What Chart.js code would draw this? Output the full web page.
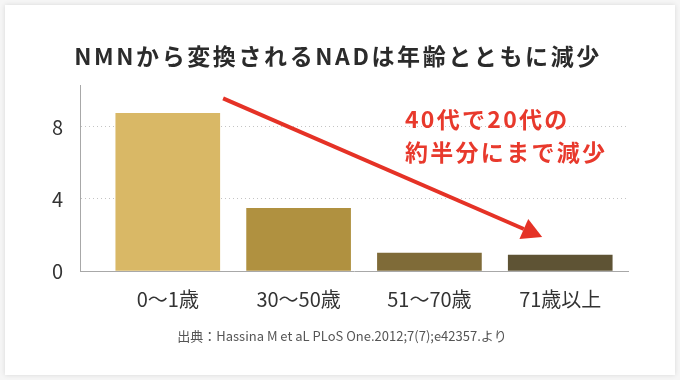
<!DOCTYPE html>
<html>
<head>
<meta charset="utf-8">
<script src="https://cdn.jsdelivr.net/npm/chart.js@4.4.1/dist/chart.umd.min.js"></script>
<style>
  html, body { margin: 0; padding: 0; width: 680px; height: 380px; background: #f6f6f6; overflow: hidden; }
  #card { position: absolute; left: 5px; top: 5px; width: 670px; height: 370px; background: #ffffff; box-shadow: 0 0 5px rgba(0,0,0,0.12); }
  #wrap { position: absolute; left: 0; top: 0; width: 680px; height: 380px; }
</style>
</head>
<body>
<div id="card"></div>
<div id="wrap"><canvas id="c" width="680" height="380"></canvas></div>
<script>
// ---- data ----
const titleText = 'NMNから変換されるNADは年齢とともに減少';
const categories = ['0〜1歳', '30〜50歳', '51〜70歳', '71歳以上'];
const nadValues = [8.76, 3.48, 1.0, 0.89];
const yTickValues = [0, 4, 8];
const noteLines = ['40代で20代の', '約半分にまで減少'];
const sourceText = '出典：Hassina M et aL PLoS One.2012;7(7);e42357.より';
// arrow endpoints and note anchor in data units (x = category index, y = value)
const arrowFrom = [0.423, 9.59];
const arrowTo = [2.862, 1.89];
const noteAnchor = [1.813, 8.44, 6.61];

// ---- styles ----
const barColors = ['#d9b866', '#b09140', '#7f6b38', '#5e5334'];
const FONT = '"Noto Sans CJK JP", "Noto Sans", sans-serif';
const RED = '#e8392c';

const overlay = {
  id: 'overlay',
  afterDatasetsDraw(chart) {
    const ctx = chart.ctx;
    const xs = chart.scales.x, ys = chart.scales.y;
    // arrow
    const x1 = xs.getPixelForValue(arrowFrom[0]), y1 = ys.getPixelForValue(arrowFrom[1]);
    const x2 = xs.getPixelForValue(arrowTo[0]), y2 = ys.getPixelForValue(arrowTo[1]);
    const ang = Math.atan2(y2 - y1, x2 - x1);
    const headLen = 20, headHalf = 11;
    const bx = x2 - headLen * Math.cos(ang), by = y2 - headLen * Math.sin(ang);
    ctx.save();
    ctx.strokeStyle = '#e53226';
    ctx.fillStyle = '#e53226';
    ctx.lineWidth = 4;
    ctx.beginPath();
    ctx.moveTo(x1, y1);
    ctx.lineTo(bx, by);
    ctx.stroke();
    ctx.beginPath();
    ctx.moveTo(x2, y2);
    ctx.lineTo(bx + headHalf * Math.sin(ang), by - headHalf * Math.cos(ang));
    ctx.lineTo(bx - headHalf * Math.sin(ang), by + headHalf * Math.cos(ang));
    ctx.closePath();
    ctx.fill();
    // note text
    ctx.fillStyle = RED;
    ctx.font = 'bold 23px ' + FONT;
    ctx.letterSpacing = '2.3px';
    ctx.textAlign = 'left';
    ctx.textBaseline = 'middle';
    const nx = xs.getPixelForValue(noteAnchor[0]);
    ctx.fillText(noteLines[0], nx, ys.getPixelForValue(noteAnchor[1]));
    ctx.fillText(noteLines[1], nx, ys.getPixelForValue(noteAnchor[2]));
    ctx.restore();
  },
  afterDraw(chart) {
    const ctx = chart.ctx;
    ctx.save();
    ctx.fillStyle = '#2b2b2b';
    ctx.font = 'bold 23px ' + FONT;
    ctx.letterSpacing = '2.6px';
    ctx.textAlign = 'center';
    ctx.textBaseline = 'middle';
    ctx.fillText(titleText, 338, 56);
    ctx.fillStyle = '#555555';
    ctx.font = '13px ' + FONT;
    ctx.letterSpacing = '0px';
    ctx.fillText(sourceText, 342, 336);
    ctx.restore();
  }
};

new Chart(document.getElementById('c'), {
  type: 'bar',
  data: {
    datasets: [{
      data: nadValues.map((v, i) => ({ x: i, y: v })),
      backgroundColor: barColors,
      borderWidth: 0,
      barThickness: 104
    }]
  },
  options: {
    responsive: false,
    animation: false,
    layout: { padding: { top: 85, right: 52, bottom: 69, left: 0 } },
    plugins: { legend: { display: false }, tooltip: { enabled: false }, title: { display: false } },
    scales: {
      x: {
        type: 'linear',
        offset: false,
        min: -0.671,
        max: 3.518,
        afterBuildTicks: s => { s.ticks = categories.map((_, i) => ({ value: i })); },
        afterFit: s => { s.height = 40; },
        ticks: {
          autoSkip: false, maxRotation: 0, padding: 16,
          color: '#333333',
          font: { family: FONT, size: 20 },
          callback: v => categories[v]
        },
        grid: { display: false, drawTicks: false, offset: false },
        border: { display: true, color: '#a8a8a8', width: 1 }
      },
      y: {
        min: 0,
        max: 10.33,
        afterBuildTicks: s => { s.ticks = yTickValues.map(v => ({ value: v })); },
        afterFit: s => { s.width = 80; },
        ticks: {
          padding: 17,
          color: '#333333',
          font: { family: FONT, size: 20 }
        },
        grid: {
          drawTicks: false,
          lineWidth: 1,
          color: c => (c.tick && c.tick.value === 0) ? 'rgba(0,0,0,0)' : '#c4c4c4'
        },
        border: { display: true, color: '#a8a8a8', width: 1, dash: [1, 3] }
      }
    }
  },
  plugins: [overlay]
});
</script>
</body>
</html>
